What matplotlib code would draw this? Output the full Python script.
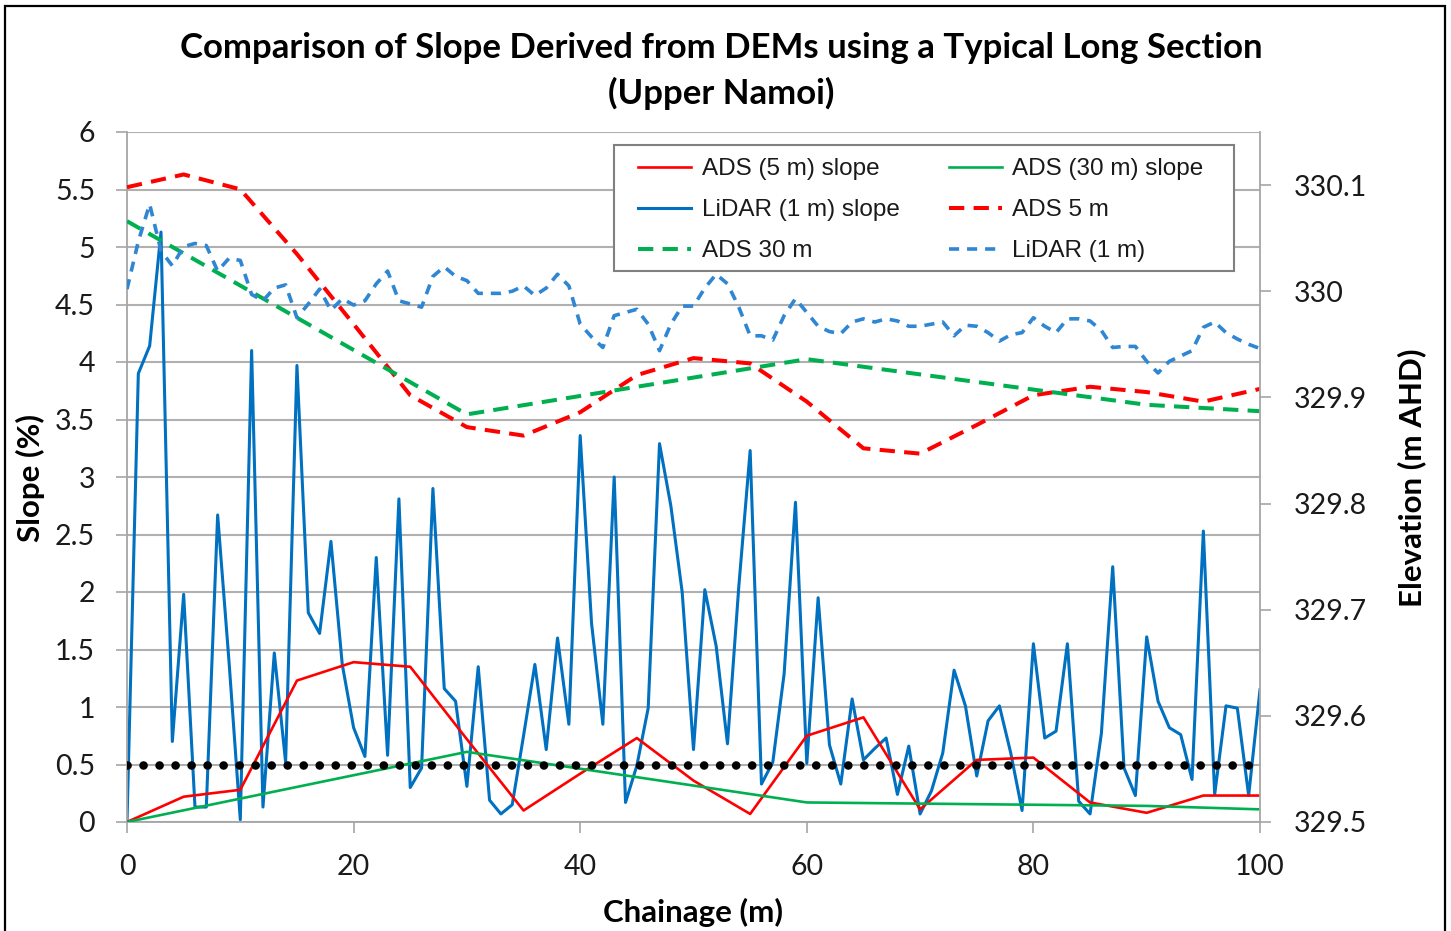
"""
Slope vs elevation along a typical long section (Upper Namoi).
"""
import numpy as np
import matplotlib
matplotlib.use("Agg")
import matplotlib.pyplot as plt
from matplotlib.patches import Rectangle

# ---- data ----
chainage_1m = np.arange(0, 101, 1)
chainage_5m = np.arange(0, 101, 5)
chainage_30m = [0, 30, 60, 90, 100]

lidar_slope = [
    0.00, 3.90, 4.14, 5.13, 0.70, 1.98, 0.13, 0.13, 2.67, 1.40,
    0.02, 4.10, 0.13, 1.47, 0.52, 3.97, 1.82, 1.64, 2.44, 1.37,
    0.82, 0.57, 2.30, 0.58, 2.81, 0.30, 0.47, 2.90, 1.16, 1.05,
    0.31, 1.35, 0.19, 0.07, 0.15, 0.75, 1.37, 0.63, 1.60, 0.85,
    3.36, 1.73, 0.85, 3.00, 0.17, 0.49, 0.99, 3.29, 2.75, 2.00,
    0.63, 2.02, 1.53, 0.68, 2.05, 3.23, 0.33, 0.52, 1.29, 2.78,
    0.51, 1.95, 0.67, 0.33, 1.07, 0.54, 0.64, 0.73, 0.24, 0.66,
    0.07, 0.27, 0.60, 1.32, 1.01, 0.40, 0.88, 1.01, 0.60, 0.10,
    1.55, 0.73, 0.79, 1.55, 0.18, 0.07, 0.77, 2.22, 0.47, 0.23,
    1.61, 1.05, 0.82, 0.76, 0.37, 2.53, 0.24, 1.01, 0.99, 0.23,
    1.15,
]
ads5_slope = [0.00, 0.22, 0.28, 1.23, 1.39, 1.35, 0.72, 0.10, 0.42, 0.73,
              0.36, 0.07, 0.75, 0.91, 0.11, 0.54, 0.56, 0.17, 0.08, 0.23, 0.23]
ads30_slope = [0.00, 0.61, 0.17, 0.14, 0.11]

lidar_elev = [
    330.002, 330.047, 330.082, 330.038, 330.024, 330.042, 330.045, 330.043, 330.019, 330.031,
    330.029, 329.997, 329.991, 330.003, 330.006, 329.975, 329.988, 330.002, 329.982, 329.993,
    329.987, 329.991, 330.007, 330.019, 329.991, 329.988, 329.985, 330.014, 330.023, 330.014,
    330.010, 329.998, 329.998, 329.998, 330.000, 330.005, 329.996, 330.003, 330.016, 330.005,
    329.969, 329.957, 329.947, 329.977, 329.980, 329.983, 329.969, 329.944, 329.969, 329.986,
    329.986, 330.003, 330.016, 330.007, 329.985, 329.958, 329.958, 329.954, 329.977, 329.993,
    329.980, 329.967, 329.962, 329.960, 329.971, 329.974, 329.971, 329.974, 329.972, 329.967,
    329.967, 329.969, 329.971, 329.958, 329.968, 329.967, 329.961, 329.953, 329.959, 329.961,
    329.975, 329.967, 329.961, 329.974, 329.974, 329.972, 329.963, 329.947, 329.948, 329.948,
    329.934, 329.923, 329.934, 329.939, 329.944, 329.966, 329.971, 329.961, 329.955, 329.950,
    329.946,
]
ads5_elev = [330.098, 330.110, 330.096, 330.035, 329.969, 329.902, 329.872, 329.864,
             329.886, 329.921, 329.937, 329.932, 329.896, 329.852, 329.847, 329.874,
             329.902, 329.910, 329.905, 329.896, 329.908]
ads30_elev = [330.066, 329.884, 329.936, 329.893, 329.887]

threshold_x = [0, 100]
threshold_slope = [0.5, 0.5]

slope_ticks = [0, 0.5, 1, 1.5, 2, 2.5, 3, 3.5, 4, 4.5, 5, 5.5, 6]
elev_ticks = [329.5, 329.6, 329.7, 329.8, 329.9, 330.0, 330.1]
elev_labels = ["329.5", "329.6", "329.7", "329.8", "329.9", "330", "330.1"]
chainage_ticks = [0, 20, 40, 60, 80, 100]

# ---- style ----
RED = "#FF0000"
GREEN = "#00B050"
BLUE = "#0070C0"
BLUE_DASH = "#2F86D2"
GRID = "#B0B0B0"
AXIS = "#A6A6A6"

plt.rcParams["font.family"] = ["Lato", "DejaVu Sans"]

W, H = 1451, 931
fig = plt.figure(figsize=(W / 100, H / 100), dpi=100)
fig.patch.set_facecolor("white")

left, right, top, bottom = 127, 1260, 132, 822
ax = fig.add_axes([left / W, 1 - bottom / H, (right - left) / W, (bottom - top) / H])
ax2 = ax.twinx()

# slope series (primary axis)
h_ads5, = ax.plot(chainage_5m, ads5_slope, color=RED, lw=1.9, zorder=3)
h_lidar, = ax.plot(chainage_1m, lidar_slope, color=BLUE, lw=2.2, zorder=2)
h_ads30, = ax.plot(chainage_30m, ads30_slope, color=GREEN, lw=1.9, zorder=3)
ax.plot(threshold_x, threshold_slope, color="black", lw=6.2,
        linestyle=(0, (0.01, 1.85)), dash_capstyle="round", zorder=4)

# elevation series (secondary axis)
h_e5, = ax2.plot(chainage_5m, ads5_elev, color=RED, lw=2.9,
                 dashes=(3.8, 2.3), dash_capstyle="butt")
h_e30, = ax2.plot(chainage_30m, ads30_elev, color=GREEN, lw=2.9,
                  dashes=(3.8, 2.3), dash_capstyle="butt")
h_el, = ax2.plot(chainage_1m, lidar_elev, color=BLUE_DASH, lw=2.6,
                 dashes=(2.8, 2.2), dash_capstyle="butt")

# axes limits & ticks
ax.set_xlim(0, 100)
ax.set_ylim(0, 6)
ax2.set_ylim(329.5, 330.15)

ax.set_xticks(chainage_ticks)
ax.set_yticks(slope_ticks)
ax.set_yticklabels([f"{v:g}" for v in slope_ticks])
ax2.set_yticks(elev_ticks)
ax2.set_yticklabels(elev_labels)

ax.yaxis.grid(True, color=GRID, lw=1.5)
ax.set_axisbelow(True)

for a in (ax, ax2):
    for s in a.spines.values():
        s.set_visible(False)
ax.spines["left"].set_visible(True)
ax.spines["left"].set_color(AXIS)
ax.spines["left"].set_linewidth(1.3)
ax.spines["bottom"].set_visible(True)
ax.spines["bottom"].set_color(AXIS)
ax.spines["bottom"].set_linewidth(1.3)
ax2.spines["right"].set_visible(True)
ax2.spines["right"].set_color(AXIS)
ax2.spines["right"].set_linewidth(1.3)

ax.tick_params(axis="x", length=8, width=1.2, color=AXIS, pad=15,
               labelsize=20.5, labelcolor="#1A1A1A")
ax.tick_params(axis="y", length=8, width=1.2, color=AXIS, pad=15,
               labelsize=20.5, labelcolor="#1A1A1A")
ax2.tick_params(axis="y", length=8, width=1.2, color=AXIS, pad=16,
                labelsize=20.5, labelcolor="#1A1A1A")

# titles
fig.text(721 / W, 1 - 48 / H, "Comparison of Slope Derived from DEMs using a Typical Long Section",
         ha="center", va="center", fontsize=25, fontweight="bold")
fig.text(721 / W, 1 - 93 / H, "(Upper Namoi)",
         ha="center", va="center", fontsize=25, fontweight="bold")
fig.text(30 / W, 1 - 478 / H, "Slope (%)", rotation=90,
         ha="center", va="center", fontsize=22.5, fontweight="bold")
fig.text(693 / W, 1 - 912 / H, "Chainage (m)",
         ha="center", va="center", fontsize=22.5, fontweight="bold")
fig.text(1412 / W, 1 - 478 / H, "Elevation (m AHD)", rotation=90,
         ha="center", va="center", fontsize=22.5, fontweight="bold")

# legend: two columns, filled row by row as in the original
handles = [h_ads5, h_lidar, h_e30, h_ads30, h_e5, h_el]
labels = ["ADS (5 m) slope", "LiDAR (1 m) slope", "ADS 30 m",
          "ADS (30 m) slope", "ADS 5 m", "LiDAR (1 m)"]
leg = fig.legend(handles, labels, ncol=2, loc="upper left",
                 bbox_to_anchor=(625 / W, 1 - 145 / H), borderaxespad=0,
                 frameon=False,
                 handlelength=2.15, handletextpad=0.45, columnspacing=2.05,
                 labelspacing=0.78, borderpad=0.55,
                 prop={"family": ["Liberation Sans", "DejaVu Sans"], "size": 17.5})
for t in leg.get_texts():
    t.set_color("#1A1A1A")
# legend frame drawn separately so the inner padding can match the original
fig.add_artist(Rectangle((614 / W, 1 - 271 / H), (1234 - 614) / W, (271 - 145) / H,
                         transform=fig.transFigure, fill=True, facecolor="white",
                         edgecolor="#808080", lw=1.5, zorder=4))
leg.set_zorder(5)

# chart border
fig.add_artist(Rectangle((5 / W, -0.02), (1445 - 5) / W, 1 - 6 / H + 0.02,
                         transform=fig.transFigure, fill=False,
                         edgecolor="black", lw=1.6))

plt.savefig("out.png", dpi=100)
